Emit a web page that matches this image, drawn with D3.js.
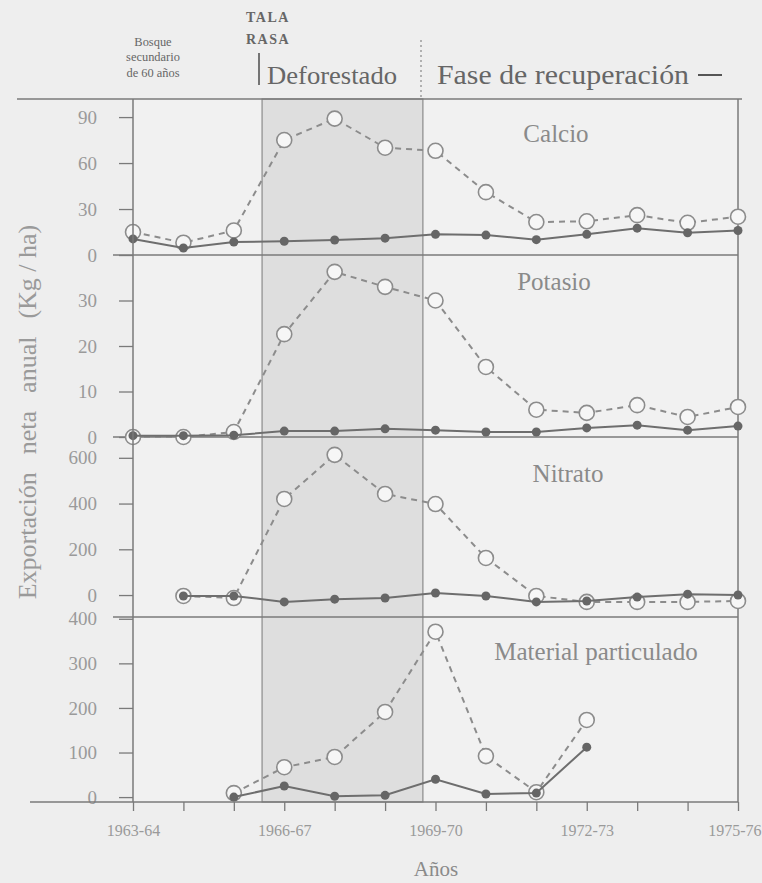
<!DOCTYPE html>
<html>
<head>
<meta charset="utf-8">
<script src="https://cdn.jsdelivr.net/npm/d3@7"></script>
<style>
  body { margin: 0; background: #eeeeee; }
  svg { display: block; font-family: "Liberation Serif", "Times New Roman", serif; }
</style>
</head>
<body>
<svg width="762" height="883"></svg>
<script>
// years (x axis), only every third one is labelled
const years = ["1963-64", "1964-65", "1965-66", "1966-67", "1967-68", "1968-69", "1969-70",
  "1970-71", "1971-72", "1972-73", "1973-74", "1974-75", "1975-76"];

// open circles (dashed) = deforested, filled dots (solid) = forest
const calcioTala = [15, 8, 16, 75, 89, 70, 68, 41, 21.5, 22, 26, 21, 25];
const calcioBosque = [10.5, 4.6, 8.5, 9, 9.8, 11, 13.5, 13, 10, 13.5, 17.5, 14.5, 16];
const potasioTala = [0, 0, 1.1, 22.6, 36.3, 33, 30, 15.4, 6, 5.3, 7, 4.4, 6.6];
const potasioBosque = [0.3, 0.3, 0.4, 1.3, 1.3, 1.8, 1.5, 1.1, 1.1, 2, 2.6, 1.5, 2.4];
const nitratoTala = [null, -4, -13, 420, 613, 442, 398, 162, -4, -30, -30, -30, -26];
const nitratoBosque = [null, -4, -4, -30, -18, -13, 9, -4, -30, -26, -9, 4, 0];
const materialTala = [null, null, 9, 67, 90, 191, 371, 92, 11, 173, null, null, null];
const materialBosque = [null, null, 0, 25, 2, 4, 40, 7, 9, 112, null, null, null];

const calcioTicks = [0, 30, 60, 90];
const potasioTicks = [0, 10, 20, 30];
const nitratoTicks = [0, 200, 400, 600];
const materialTicks = [0, 100, 200, 300, 400];

// deforested period in year-index units
const taladoDesde = 2.56;
const taladoHasta = 5.75;

const plotLeft = 133, plotRight = 738, plotTop = 99, plotBottom = 802;
const lineColor = "#7a7a7a";

const svg = d3.select("svg");

const x = d3.scaleLinear().domain([0, years.length - 1]).range([plotLeft, plotRight]);

// panels stacked top to bottom
const panels = [
  { name: "Calcio", open: calcioTala, filled: calcioBosque, ticks: calcioTicks,
    y0: 99, y1: 255, domain: [0, 101.8], lx: 556, ly: 142 },
  { name: "Potasio", open: potasioTala, filled: potasioBosque, ticks: potasioTicks,
    y0: 255, y1: 437, domain: [0, 40], lx: 554, ly: 290 },
  { name: "Nitrato", open: nitratoTala, filled: nitratoBosque, ticks: nitratoTicks,
    y0: 437, y1: 617, domain: [-96, 691], lx: 568, ly: 482 },
  { name: "Material particulado", open: materialTala, filled: materialBosque, ticks: materialTicks,
    y0: 617, y1: 802, domain: [-11, 404], lx: 596, ly: 660 }
];

// panel background + deforested shading
svg.append("rect")
  .attr("x", plotLeft).attr("y", plotTop)
  .attr("width", plotRight - plotLeft).attr("height", plotBottom - plotTop)
  .attr("fill", "#f1f1f1");

svg.append("rect")
  .attr("x", x(taladoDesde)).attr("y", plotTop)
  .attr("width", x(taladoHasta) - x(taladoDesde)).attr("height", plotBottom - plotTop)
  .attr("fill", "#dedede")
  .attr("stroke", "#8a8a8a").attr("stroke-width", 1.2);

// frame lines
svg.append("line").attr("x1", 17).attr("x2", 742).attr("y1", plotTop).attr("y2", plotTop)
  .attr("stroke", lineColor).attr("stroke-width", 1.5);
svg.append("line").attr("x1", plotRight).attr("x2", plotRight).attr("y1", plotTop).attr("y2", plotBottom)
  .attr("stroke", lineColor).attr("stroke-width", 1.5);

panels.forEach(function (p, i) {
  const y = d3.scaleLinear().domain(p.domain).range([p.y1, p.y0]);

  // separator below the panel
  if (i < panels.length - 1) {
    svg.append("line").attr("x1", 113).attr("x2", plotRight).attr("y1", p.y1).attr("y2", p.y1)
      .attr("stroke", lineColor).attr("stroke-width", 1.5);
  }

  const yAxis = d3.axisLeft(y).tickValues(p.ticks).tickSize(14).tickPadding(22);
  const g = svg.append("g").attr("transform", `translate(${plotLeft},0)`).call(yAxis);
  g.select(".domain").remove();
  g.selectAll(".tick line").attr("stroke", lineColor).attr("stroke-width", 1.3);
  g.selectAll(".tick text")
    .attr("font-family", "Liberation Serif")
    .attr("font-size", 19)
    .attr("fill", "#9a9a9a");

  const line = d3.line()
    .defined((d) => d != null)
    .x((d, j) => x(j))
    .y((d) => y(d));

  const idx = d3.range(years.length);

  // dashed series with open circles
  svg.append("path")
    .datum(p.open)
    .attr("fill", "none")
    .attr("stroke", "#8c8c8c")
    .attr("stroke-width", 2)
    .attr("stroke-dasharray", "6,5")
    .attr("d", line);

  svg.append("g").selectAll("circle")
    .data(idx.filter((j) => p.open[j] != null))
    .enter()
    .append("circle")
    .attr("cx", (j) => x(j))
    .attr("cy", (j) => y(p.open[j]))
    .attr("r", 7.5)
    .attr("fill", "#f6f6f6")
    .attr("stroke", "#8c8c8c")
    .attr("stroke-width", 1.6);

  // solid series with filled dots
  svg.append("path")
    .datum(p.filled)
    .attr("fill", "none")
    .attr("stroke", "#6e6e6e")
    .attr("stroke-width", 2)
    .attr("d", line);

  svg.append("g").selectAll("circle")
    .data(idx.filter((j) => p.filled[j] != null))
    .enter()
    .append("circle")
    .attr("cx", (j) => x(j))
    .attr("cy", (j) => y(p.filled[j]))
    .attr("r", 4.5)
    .attr("fill", "#666");

  svg.append("text")
    .attr("x", p.lx).attr("y", p.ly)
    .attr("text-anchor", "middle")
    .attr("font-size", 25)
    .attr("fill", "#8a8a8a")
    .text(p.name);
});

// left axis line
svg.append("line").attr("x1", plotLeft).attr("x2", plotLeft).attr("y1", plotTop).attr("y2", plotBottom)
  .attr("stroke", lineColor).attr("stroke-width", 1.5);

// x axis
const xAxis = d3.axisBottom(x)
  .tickValues(d3.range(years.length))
  .tickSize(9)
  .tickPadding(14)
  .tickFormat((d) => (d % 3 === 0 ? years[d] : ""));

const gx = svg.append("g").attr("transform", `translate(0,${plotBottom})`).call(xAxis);
gx.select(".domain").remove();
gx.selectAll(".tick line").attr("stroke", lineColor).attr("stroke-width", 1.3);
gx.selectAll(".tick text")
  .attr("font-family", "Liberation Serif")
  .attr("font-size", 16)
  .attr("fill", "#9a9a9a");
// last label sits against the page edge
gx.selectAll(".tick text").filter((d) => d === years.length - 1)
  .attr("text-anchor", "end")
  .attr("dx", 23);
svg.append("line").attr("x1", 30).attr("x2", plotRight).attr("y1", plotBottom).attr("y2", plotBottom)
  .attr("stroke", lineColor).attr("stroke-width", 1.5);

svg.append("text")
  .attr("x", 436).attr("y", 876)
  .attr("text-anchor", "middle")
  .attr("font-size", 21)
  .attr("fill", "#8a8a8a")
  .text("Años");

// y axis title, words spread apart as in the original
const yTitle = svg.append("text")
  .attr("transform", "translate(36,412) rotate(-90)")
  .attr("text-anchor", "middle")
  .attr("font-size", 26)
  .attr("fill", "#9a9a9a");
["Exportación", "neta", "anual", "(Kg / ha)"].forEach(function (w, i) {
  yTitle.append("tspan").attr("dx", i === 0 ? 0 : 18).text(w);
});

// header
const header = svg.append("g").attr("fill", "#666");

header.selectAll("text.bosque")
  .data(["Bosque", "secundario", "de 60 años"])
  .enter()
  .append("text")
  .attr("class", "bosque")
  .attr("x", 0)
  .attr("y", (d, i) => 46 + i * 15.5)
  .attr("text-anchor", "middle")
  .attr("font-size", 13.5)
  .attr("transform", "translate(153,0) scale(0.92,1)")
  .text((d) => d);

header.selectAll("text.tala")
  .data(["TALA", "RASA"])
  .enter()
  .append("text")
  .attr("class", "tala")
  .attr("x", 268)
  .attr("y", (d, i) => 22 + i * 22)
  .attr("text-anchor", "middle")
  .attr("font-size", 14)
  .attr("font-weight", "bold")
  .attr("letter-spacing", 1.5)
  .text((d) => d);

svg.append("line").attr("x1", 259).attr("x2", 259).attr("y1", 53).attr("y2", 85)
  .attr("stroke", "#555").attr("stroke-width", 1.6);

header.append("text")
  .attr("x", 267).attr("y", 84)
  .attr("font-size", 26)
  .attr("textLength", 130)
  .attr("lengthAdjust", "spacingAndGlyphs")
  .text("Deforestado");

svg.append("line").attr("x1", 421).attr("x2", 421).attr("y1", 40).attr("y2", plotTop)
  .attr("stroke", "#888").attr("stroke-width", 1.2).attr("stroke-dasharray", "2,3");

header.append("text")
  .attr("x", 437).attr("y", 84)
  .attr("font-size", 27)
  .attr("textLength", 252)
  .attr("lengthAdjust", "spacingAndGlyphs")
  .text("Fase de recuperación");

// solid line key next to the recovery label
svg.append("line").attr("x1", 698).attr("x2", 722).attr("y1", 75).attr("y2", 75)
  .attr("stroke", "#555").attr("stroke-width", 2);
</script>
</body>
</html>
